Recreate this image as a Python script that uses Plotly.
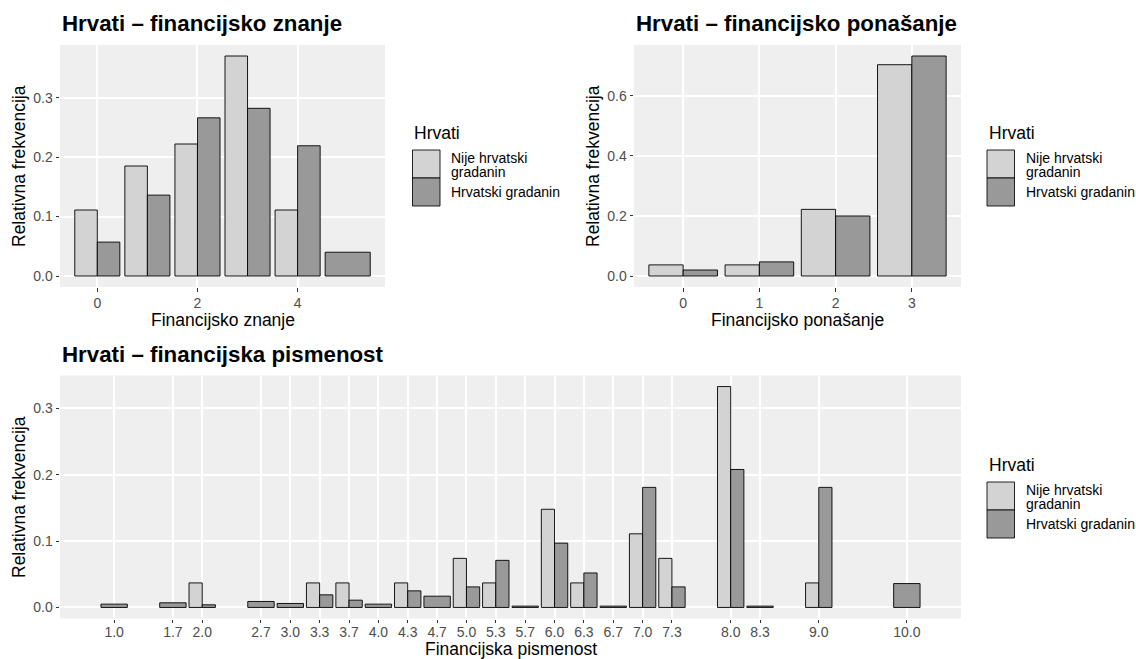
import plotly.graph_objects as go

W, H = 1136, 659

# ---------------- data ----------------
group_names = ["Nije hrvatski gradanin", "Hrvatski gradanin"]
legend_title = "Hrvati"

znanje_x = [0, 1, 2, 3, 4, 5]
znanje_nije = [0.111, 0.185, 0.222, 0.370, 0.111, None]
znanje_hrv = [0.057, 0.136, 0.266, 0.282, 0.219, 0.040]
znanje_ticks = [0, 2, 4]

ponasanje_x = [0, 1, 2, 3]
ponasanje_nije = [0.037, 0.037, 0.222, 0.704]
ponasanje_hrv = [0.020, 0.047, 0.200, 0.733]
ponasanje_ticks = [0, 1, 2, 3]

pism_x = [1.0, 1.667, 2.0, 2.667, 3.0, 3.333, 3.667, 4.0, 4.333, 4.667, 5.0,
          5.333, 5.667, 6.0, 6.333, 6.667, 7.0, 7.333, 8.0, 8.333, 9.0, 10.0]
pism_labels = ["1.0", "1.7", "2.0", "2.7", "3.0", "3.3", "3.7", "4.0", "4.3", "4.7", "5.0",
               "5.3", "5.7", "6.0", "6.3", "6.7", "7.0", "7.3", "8.0", "8.3", "9.0", "10.0"]
pism_nije = [None, None, 0.037, None, None, 0.037, 0.037, None, 0.037, None, 0.074,
             0.037, None, 0.148, 0.037, None, 0.111, 0.074, 0.333, None, 0.037, None]
pism_hrv = [0.005, 0.007, 0.004, 0.009, 0.006, 0.019, 0.011, 0.005, 0.025, 0.017, 0.031,
            0.071, 0.002, 0.097, 0.052, 0.002, 0.181, 0.031, 0.208, 0.002, 0.181, 0.036]

titles = ["Hrvati – financijsko znanje", "Hrvati – financijsko ponašanje",
          "Hrvati – financijska pismenost"]
xtitles = ["Financijsko znanje", "Financijsko ponašanje", "Financijska pismenost"]
ytitle = "Relativna frekvencija"

# ---------------- style ----------------
FONT = "Liberation Sans, Arial, Helvetica, sans-serif"
LIGHT = "#D3D3D3"
DARK = "#999999"
PANEL = "#EFEFEF"
OUTLINE = "rgba(0,0,0,0.9)"


def px(x):
    return x / W


def py(y):
    return 1 - y / H


def dodge(a, b, total):
    oa, wa, ob, wb = [], [], [], []
    for va, vb in zip(a, b):
        if va is not None and vb is not None:
            oa.append(-total / 2); wa.append(total / 2)
            ob.append(0.0); wb.append(total / 2)
        else:
            oa.append(-total / 2); wa.append(total)
            ob.append(-total / 2); wb.append(total)
    return oa, wa, ob, wb


fig = go.Figure()

panels = [
    dict(x=znanje_x, a=znanje_nije, b=znanje_hrv, xa="x", ya="y"),
    dict(x=ponasanje_x, a=ponasanje_nije, b=ponasanje_hrv, xa="x2", ya="y2"),
    dict(x=pism_x, a=pism_nije, b=pism_hrv, xa="x3", ya="y3"),
]

ranges = []
for p in panels:
    xs = p["x"]
    res = min(xs[i + 1] - xs[i] for i in range(len(xs) - 1))
    total = 0.9 * res
    oa, wa, ob, wb = dodge(p["a"], p["b"], total)
    fig.add_trace(go.Bar(x=xs, y=p["a"], offset=oa, width=wa, name=group_names[0],
                         marker=dict(color=LIGHT, line=dict(color=OUTLINE, width=1)),
                         xaxis=p["xa"], yaxis=p["ya"], showlegend=False))
    fig.add_trace(go.Bar(x=xs, y=p["b"], offset=ob, width=wb, name=group_names[1],
                         marker=dict(color=DARK, line=dict(color=OUTLINE, width=1)),
                         xaxis=p["xa"], yaxis=p["ya"], showlegend=False))
    lo = min(xs) - total / 2
    hi = max(xs) + total / 2
    span = hi - lo
    ymax = max(v for v in p["a"] + p["b"] if v is not None)
    ranges.append(([lo - 0.05 * span, hi + 0.05 * span], [-0.05 * ymax, 1.05 * ymax]))

axis_common = dict(
    showgrid=True, gridcolor="white", gridwidth=1.5, zeroline=False, showline=False,
    ticks="outside", ticklen=3.5, tickwidth=1, tickcolor="#333333",
    tickfont=dict(family=FONT, size=14, color="#4D4D4D"),
)

# panel pixel boxes (left, right, top, bottom)
boxes = [(60, 385, 45, 287), (634, 961, 45, 287), (60, 961, 375.5, 618.5)]

layout = dict(
    width=W, height=H, margin=dict(l=0, r=0, t=0, b=0),
    paper_bgcolor="white", plot_bgcolor=PANEL, barmode="overlay",
    font=dict(family=FONT, color="black"), showlegend=False,
)

xticks = [
    dict(tickvals=znanje_ticks, ticktext=[str(t) for t in znanje_ticks]),
    dict(tickvals=ponasanje_ticks, ticktext=[str(t) for t in ponasanje_ticks]),
    dict(tickvals=pism_x, ticktext=pism_labels, ticklabelstandoff=-3),
]
yticks = [
    dict(tickvals=[0, 0.1, 0.2, 0.3], ticktext=["0.0", "0.1", "0.2", "0.3"]),
    dict(tickvals=[0, 0.2, 0.4, 0.6], ticktext=["0.0", "0.2", "0.4", "0.6"]),
    dict(tickvals=[0, 0.1, 0.2, 0.3], ticktext=["0.0", "0.1", "0.2", "0.3"]),
]

for i, (l, r, t, b) in enumerate(boxes):
    sx = "" if i == 0 else str(i + 1)
    xr, yr = ranges[i]
    layout["xaxis" + sx] = dict(axis_common, domain=[px(l), px(r)], range=xr,
                                anchor="y" + sx, **xticks[i])
    layout["yaxis" + sx] = dict(axis_common, domain=[py(b), py(t)], range=yr,
                                anchor="x" + sx, **yticks[i])

fig.update_layout(**layout)

ann = []
shapes = []
xtitle_off = [32.5, 32.5, 30.5]
for i, (l, r, t, b) in enumerate(boxes):
    # panel title
    ann.append(dict(text="<b>" + titles[i] + "</b>", x=px(l), y=py(t - 21.5),
                    xref="paper", yref="paper", xanchor="left", yanchor="middle",
                    showarrow=False, font=dict(family=FONT, size=22.3, color="black")))
    # x title
    ann.append(dict(text=xtitles[i], x=px((l + r) / 2), y=py(b + xtitle_off[i]),
                    xref="paper", yref="paper", xanchor="center", yanchor="middle",
                    showarrow=False, font=dict(family=FONT, size=17.5, color="black")))
    # y title
    ann.append(dict(text=ytitle, x=px(l - 41), y=py((t + b) / 2), textangle=-90,
                    xref="paper", yref="paper", xanchor="center", yanchor="middle",
                    showarrow=False, font=dict(family=FONT, size=17.5, color="black")))

# legends (left x of key, top y of key)
legends = [(412.5, 150), (987, 150), (987, 482)]
for lx, ly in legends:
    kw, kh = 27.5, 28
    ann.append(dict(text=legend_title, x=px(lx), y=py(ly - 17), xref="paper", yref="paper",
                    xanchor="left", yanchor="middle", showarrow=False,
                    font=dict(family=FONT, size=17.5, color="black")))
    for j, col in enumerate([LIGHT, DARK]):
        shapes.append(dict(type="rect", xref="paper", yref="paper",
                           x0=px(lx), x1=px(lx + kw), y0=py(ly + (j + 1) * kh), y1=py(ly + j * kh),
                           fillcolor=col, line=dict(color="rgba(0,0,0,0.85)", width=1)))
    tx = lx + kw + 9
    ann.append(dict(text="Nije hrvatski", x=px(tx), y=py(ly + 8), xref="paper", yref="paper",
                    xanchor="left", yanchor="middle", showarrow=False,
                    font=dict(family=FONT, size=14, color="black")))
    ann.append(dict(text="gradanin", x=px(tx), y=py(ly + 21.5), xref="paper", yref="paper",
                    xanchor="left", yanchor="middle", showarrow=False,
                    font=dict(family=FONT, size=14, color="black")))
    ann.append(dict(text=group_names[1], x=px(tx), y=py(ly + kh + 14), xref="paper", yref="paper",
                    xanchor="left", yanchor="middle", showarrow=False,
                    font=dict(family=FONT, size=14, color="black")))

fig.update_layout(annotations=ann, shapes=shapes)

fig.write_html("out.html", config={"displayModeBar": False},
               post_script="document.body.style.margin='0px';")
